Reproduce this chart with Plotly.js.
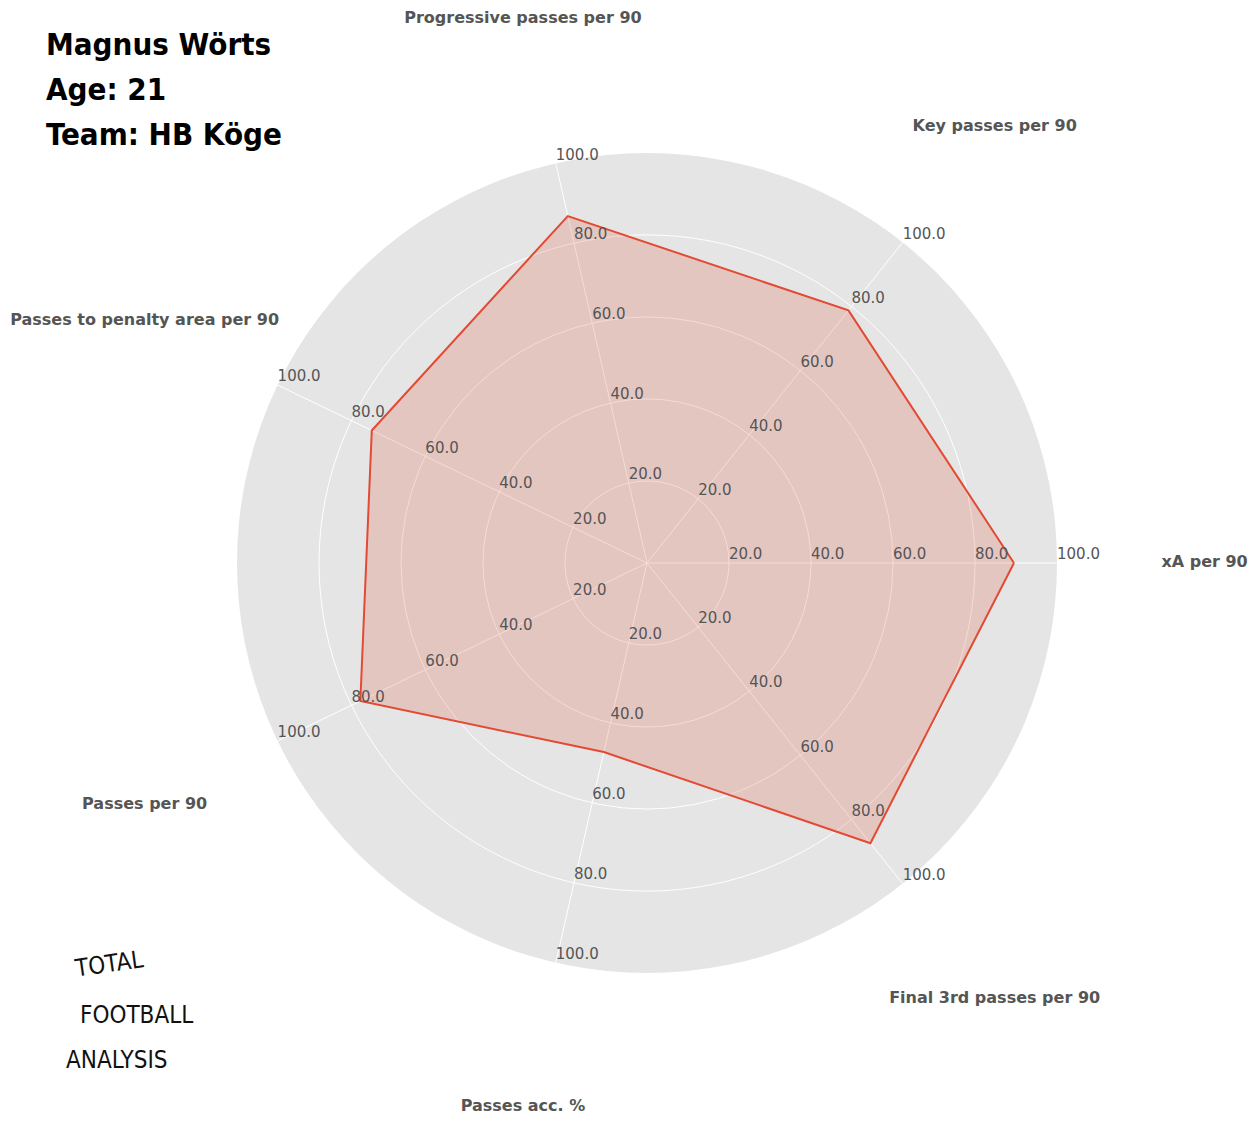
<!DOCTYPE html>
<html>
<head>
<meta charset="utf-8">
<script src="https://cdn.plot.ly/plotly-3.0.1.min.js"></script>
<style>html,body{margin:0;padding:0;background:#fff;}#chart{width:1258px;height:1131px;}</style>
</head>
<body>
<div id="chart"></div>
<script>
// ---- data ----
const categories = [
  "xA per 90",
  "Key passes per 90",
  "Progressive passes per 90",
  "Passes to penalty area per 90",
  "Passes per 90",
  "Passes acc. %",
  "Final 3rd passes per 90"
];
const values = [89.5, 78.8, 86.8, 74.5, 77.6, 47.3, 87.4];
const tickValues = [20, 40, 60, 80, 100];
const tickLabels = ["20.0", "40.0", "60.0", "80.0", "100.0"];
const titleLines = ["Magnus Wörts", "Age: 21", "Team: HB Köge"];
const logoLines = ["TOTAL", "FOOTBALL", "ANALYSIS"];

// ---- traces ----
const shape = {
  type: "scatterpolar",
  subplot: "polar",
  r: values.concat([values[0]]),
  theta: categories.concat([categories[0]]),
  mode: "lines",
  fill: "toself",
  fillcolor: "rgba(226,74,51,0.2)",
  line: {color: "#E24A33", width: 2},
  hoverinfo: "skip"
};

const tr = [], tt = [], tx = [];
categories.forEach(c => {
  tickValues.forEach((v, i) => { tr.push(v); tt.push(c); tx.push(tickLabels[i]); });
});
const ticks = {
  type: "scatterpolar",
  subplot: "polar",
  r: tr, theta: tt, text: tx,
  mode: "text",
  textposition: "top right",
  textfont: {family: "DejaVu Sans", size: 15, color: "#555555"},
  cliponaxis: false,
  hoverinfo: "skip"
};

const labelR = 136;
const catLabels = {
  type: "scatterpolar",
  subplot: "polar2",
  r: categories.map(() => labelR),
  theta: categories,
  text: categories.map(c => "<b>" + c + "</b>"),
  mode: "text",
  textposition: "middle center",
  textfont: {family: "DejaVu Sans", size: 16, color: "#555555"},
  cliponaxis: false,
  hoverinfo: "skip"
};

const annotations = [];
titleLines.forEach((t, i) => {
  annotations.push({
    text: "<b>" + t + "</b>", xref: "paper", yref: "paper",
    x: 44 / 1258, y: 1 - (44 + 45 * i) / 1131, xanchor: "left", yanchor: "middle",
    showarrow: false,
    font: {family: "DejaVu Sans Condensed", size: 31, color: "#000000", stretch: "condensed"}
  });
});
const logoPos = [[108, 964, -8], [136, 1015, 0], [116, 1060, 0]];
logoLines.forEach((t, i) => {
  annotations.push({
    text: t, xref: "paper", yref: "paper",
    x: logoPos[i][0] / 1258, y: 1 - logoPos[i][1] / 1131, xanchor: "center", yanchor: "middle",
    textangle: logoPos[i][2],
    showarrow: false,
    font: {family: "DejaVu Sans Condensed", size: 24, color: "#111111", weight: 300}
  });
});

const cx = 647, cy = 563, pxPerUnit = 4.1, H = 1131, W = 1258;
function dom(rMax) {
  const rad = rMax * pxPerUnit;
  return {x: [(cx - rad) / W, (cx + rad) / W], y: [1 - (cy + rad) / H, 1 - (cy - rad) / H]};
}

const layout = {
  width: W, height: H,
  margin: {l: 0, r: 0, t: 0, b: 0},
  paper_bgcolor: "#ffffff",
  showlegend: false,
  polar: {
    domain: dom(100),
    bgcolor: "#e5e5e5",
    angularaxis: {
      type: "category",
      categoryarray: categories,
      direction: "counterclockwise",
      rotation: 0,
      showline: false,
      showticklabels: false,
      ticks: "",
      gridcolor: "#ffffff",
      gridwidth: 1
    },
    radialaxis: {
      range: [0, 100],
      tickvals: [20, 40, 60, 80],
      showticklabels: false,
      ticks: "",
      showline: false,
      gridcolor: "#ffffff",
      gridwidth: 1
    }
  },
  polar2: {
    domain: dom(labelR),
    bgcolor: "rgba(0,0,0,0)",
    angularaxis: {
      type: "category",
      categoryarray: categories,
      direction: "counterclockwise",
      rotation: 0,
      showline: false, showgrid: false,
      showticklabels: false, ticks: ""
    },
    radialaxis: {
      range: [0, labelR],
      showline: false, showgrid: false,
      showticklabels: false, ticks: ""
    }
  },
  annotations: annotations
};

Plotly.newPlot("chart", [shape, ticks, catLabels], layout, {displayModeBar: false});
</script>
</body>
</html>
